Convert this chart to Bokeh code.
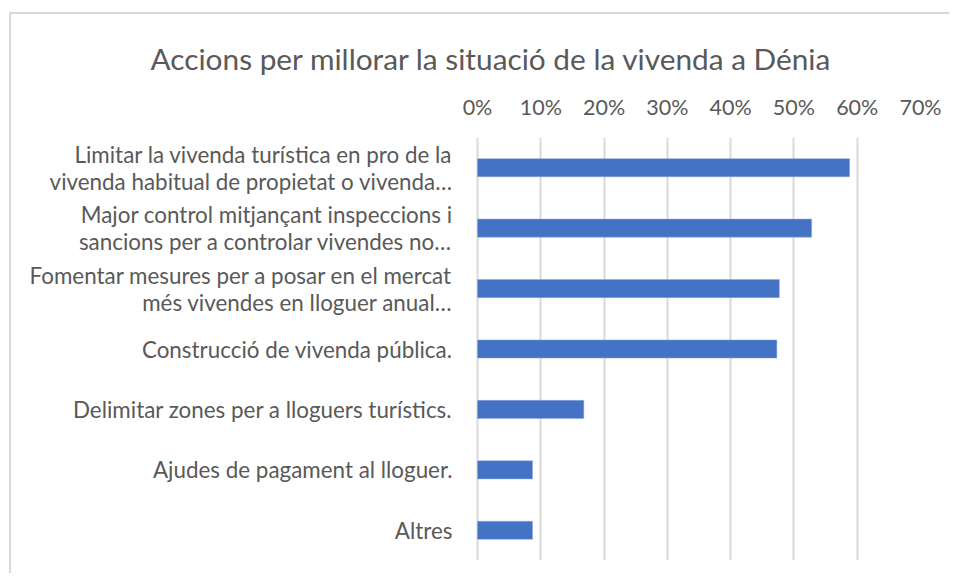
from bokeh.plotting import figure
from bokeh.models import FactorRange, Range1d, FixedTicker, NumeralTickFormatter, ColumnDataSource
from bokeh.core.properties import value
from bokeh.embed import file_html
from bokeh.resources import INLINE

categories = [
    "Limitar la vivenda turística en pro de la\nvivenda habitual de propietat o vivenda…",
    "Major control mitjançant inspeccions i\nsancions per a controlar vivendes no…",
    "Fomentar mesures per a posar en el mercat\nmés vivendes en lloguer anual…",
    "Construcció de vivenda pública.",
    "Delimitar zones per a lloguers turístics.",
    "Ajudes de pagament al lloguer.",
    "Altres",
]
values = [0.588, 0.528, 0.477, 0.473, 0.168, 0.087, 0.087]
tick_values = [0, 0.1, 0.2, 0.3, 0.4, 0.5, 0.6, 0.7]
title_text = "Accions per millorar la situació de la vivenda a Dénia"

FONT = "Lato"
TXT = "#595959"
LABEL_X = -0.0395

src = ColumnDataSource(dict(cat=categories, val=values, lx=[LABEL_X] * len(categories)))

p = figure(
    width=949, height=573,
    y_range=FactorRange(*list(reversed(categories))),
    x_range=Range1d(-0.7537, 0.7),
    x_axis_location="above", y_axis_location=None,
    output_backend="svg", toolbar_location=None,
    min_border_left=0, min_border_right=29, min_border_top=137, min_border_bottom=13,
)
p.outline_line_color = None
p.border_fill_color = None
p.background_fill_color = None
p.styles = {
    "background": "linear-gradient(#d9d9d9,#d9d9d9) 9px 12px / 2px 561px no-repeat, "
                  "linear-gradient(#d9d9d9,#d9d9d9) 9px 12px / 940px 2px no-repeat, white"
}

p.title.text = title_text
p.title.align = "left"
p.title.offset = 150
p.title.standoff = 30
p.title.text_font = FONT
p.title.text_font_size = "29.8px"
p.title.text_font_style = "normal"
p.title.text_color = TXT

ax = p.xaxis[0]
ax.ticker = FixedTicker(ticks=tick_values)
ax.formatter = NumeralTickFormatter(format="0%")
ax.axis_line_color = None
ax.major_tick_line_color = None
ax.minor_tick_line_color = None
ax.major_label_standoff = 12
ax.major_label_text_font = FONT
ax.major_label_text_font_size = "21.5px"
ax.major_label_text_color = TXT

p.xgrid.ticker = FixedTicker(ticks=tick_values)
p.xgrid.grid_line_color = "#d9d9d9"
p.xgrid.grid_line_width = 2
p.ygrid.grid_line_color = None

p.hbar(y="cat", right="val", left=0, height=0.3, source=src,
       fill_color="#4472c4", line_color="#8faadc", line_width=0.5)

p.text(x="lx", y="cat", text="cat", source=src,
       text_align="right", text_baseline="middle",
       text_font=value(FONT), text_font_size="22.4px", text_color=TXT,
       text_line_height=1.0)

open("out.html", "w").write(file_html(p, INLINE))
